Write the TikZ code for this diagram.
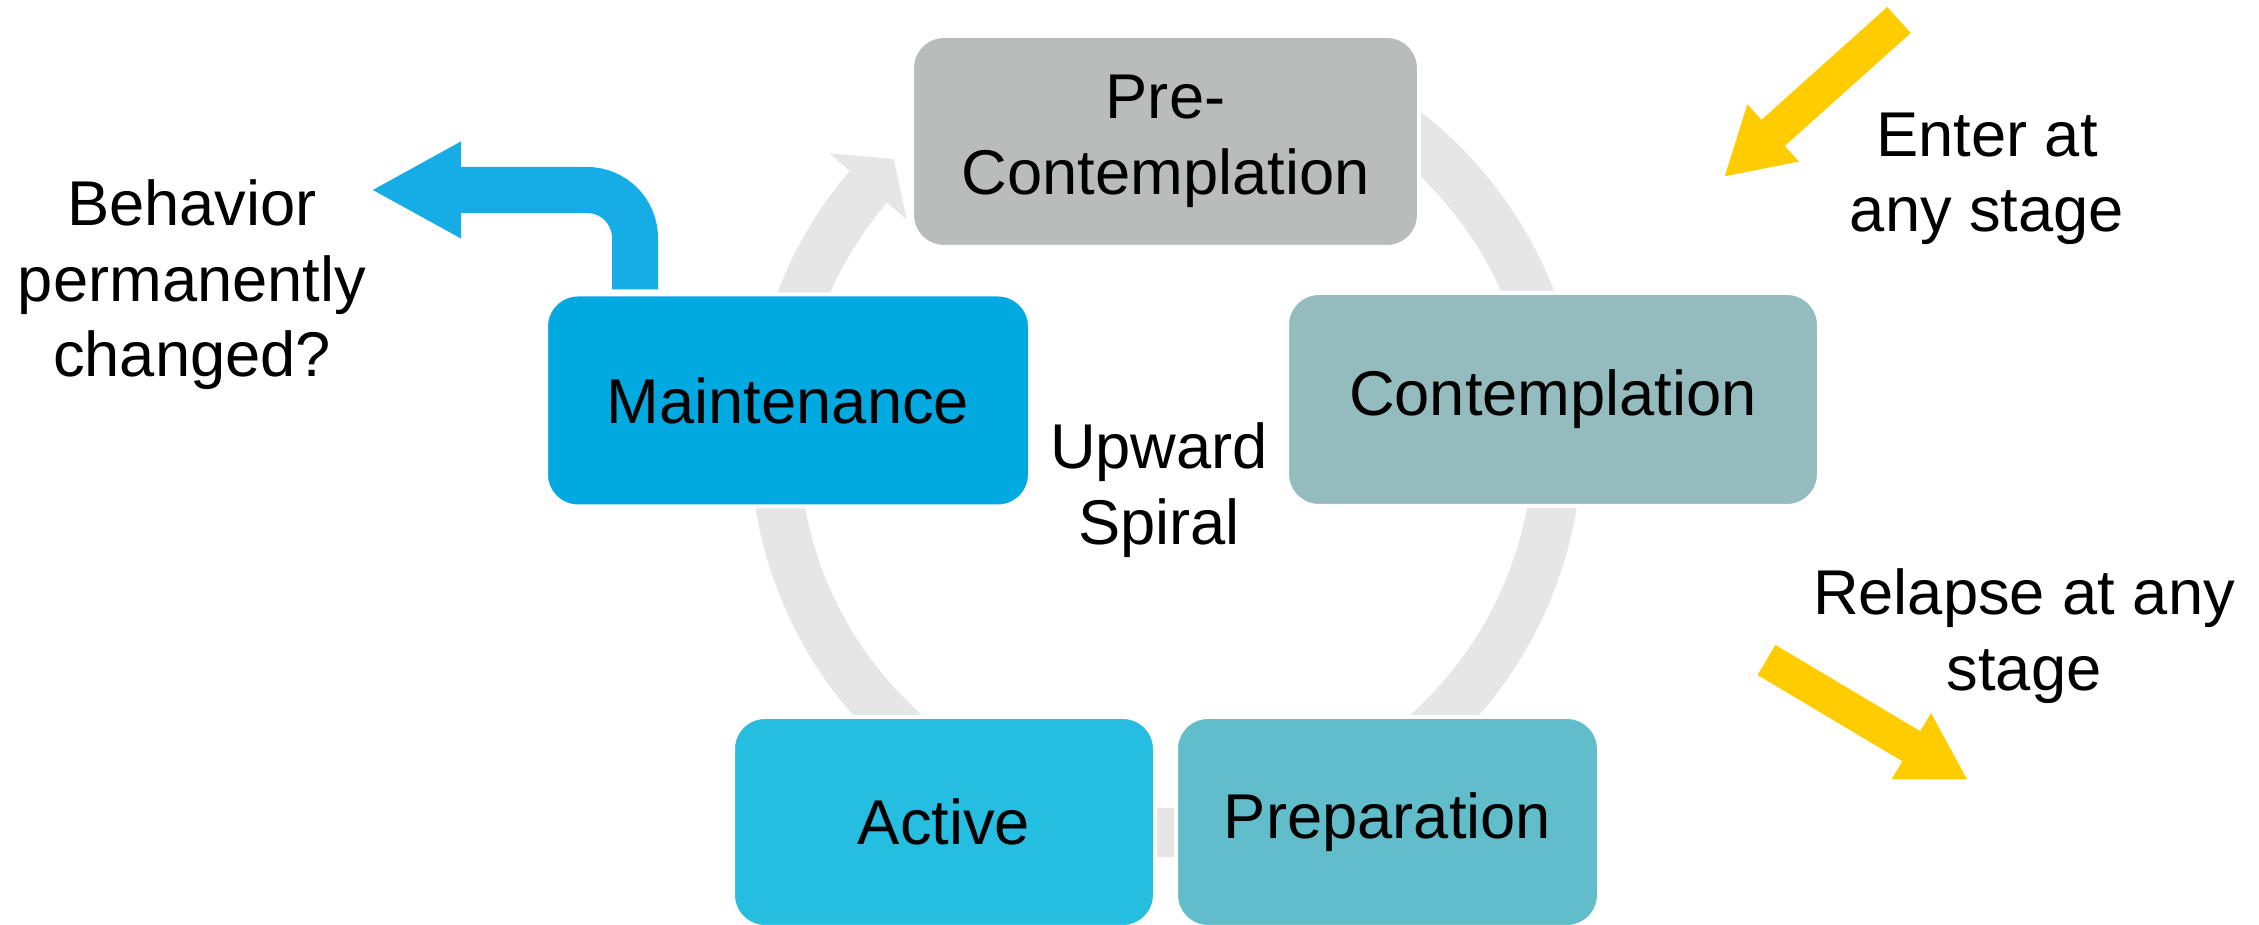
\documentclass[tikz,border=0pt]{standalone}
\usepackage{fontspec}
\setmainfont{Liberation Sans}
\usepackage{xcolor}
\usetikzlibrary{positioning, arrows.meta, calc}
\definecolor{stagegray}{RGB}{186, 188, 187}
\definecolor{stageteal}{RGB}{148, 188, 190}
\definecolor{stageaqua}{RGB}{98, 189, 203}
\definecolor{stagecyan}{RGB}{37, 189, 224}
\definecolor{stageblue}{RGB}{0, 169, 224}
\definecolor{spiralgray}{RGB}{230, 230, 230}
\definecolor{signyellow}{RGB}{255, 204, 0}
\definecolor{exitblue}{RGB}{22, 173, 230}

\begin{document}
\begin{tikzpicture}[
        stage/.style={rectangle, draw=white, line width=0.04cm, text centered, rounded corners=0.32cm, align=center, font=\fontsize{18}{21.5}\selectfont},
        note/.style={align=center, inner sep=0pt, font=\fontsize{18}{21.5}\selectfont},
        hint/.style={signyellow, line width=0.35cm, -{Triangle[length=0.66cm, width=0.72cm]}},
        exitarrow/.style={exitblue, line width=0.46cm, rounded corners=0.48cm, -{Triangle[length=0.9cm, width=0.9cm]}}
    ]
        \useasboundingbox (0,0) rectangle (22.59,9.25);

        % Spiral ring behind the stages
        \coordinate (hub) at (11.66,4.84);
        \fill[spiralgray, shift={(hub)}] (70:4.16) arc[start angle=70, end angle=-220.5, radius=4.16]
            -- (-220.5:4.43) -- (-226:3.92) -- (-220.5:3.41) -- (-220.5:3.67)
            arc[start angle=-220.5, end angle=70, radius=3.67] -- cycle;

        % Stages
        \node[stage, fill=stagegray, minimum width=5.07cm, minimum height=2.11cm] (pre) at (11.655,7.835) {Pre-\\Contemplation};
        \node[stage, fill=stageteal, minimum width=5.32cm, minimum height=2.13cm] (contemp) at (15.53,5.255) {Contemplation};
        \node[stage, fill=stageaqua, minimum width=4.23cm, minimum height=2.10cm] (prep) at (13.875,1.03) {Preparation};
        \node[stage, fill=stagecyan, minimum width=4.22cm, minimum height=2.10cm] (active) at (9.44,1.03) {Active};
        \node[stage, fill=stageblue, minimum width=4.84cm, minimum height=2.12cm] (maint) at (7.88,5.245) {Maintenance};

        % Centre label
        \node[note] (spiral) at (11.59,4.35) {Upward\\Spiral};

        % Exit from maintenance
        \node[note] (behav) at (1.92,6.40) {Behavior\\permanently\\changed?};
        \coordinate (exittip) at (3.71,7.35);
        \draw[exitarrow] ([xshift=-1.53cm, yshift=0.03cm]maint.north) |- (exittip);

        % Entry and relapse
        \node[note] (enter) at (19.87,7.46) {Enter at\\any stage};
        \coordinate (enterfrom) at (18.99,9.05);
        \coordinate (enterto) at (17.24,7.48);
        \draw[hint] (enterfrom) -- (enterto);

        \node[note] (relapse) at (20.24,2.89) {Relapse at any\\stage};
        \coordinate (relapsefrom) at (17.665,2.65);
        \coordinate (relapseto) at (19.68,1.45);
        \draw[hint] (relapsefrom) -- (relapseto);
    \end{tikzpicture}
\end{document}
